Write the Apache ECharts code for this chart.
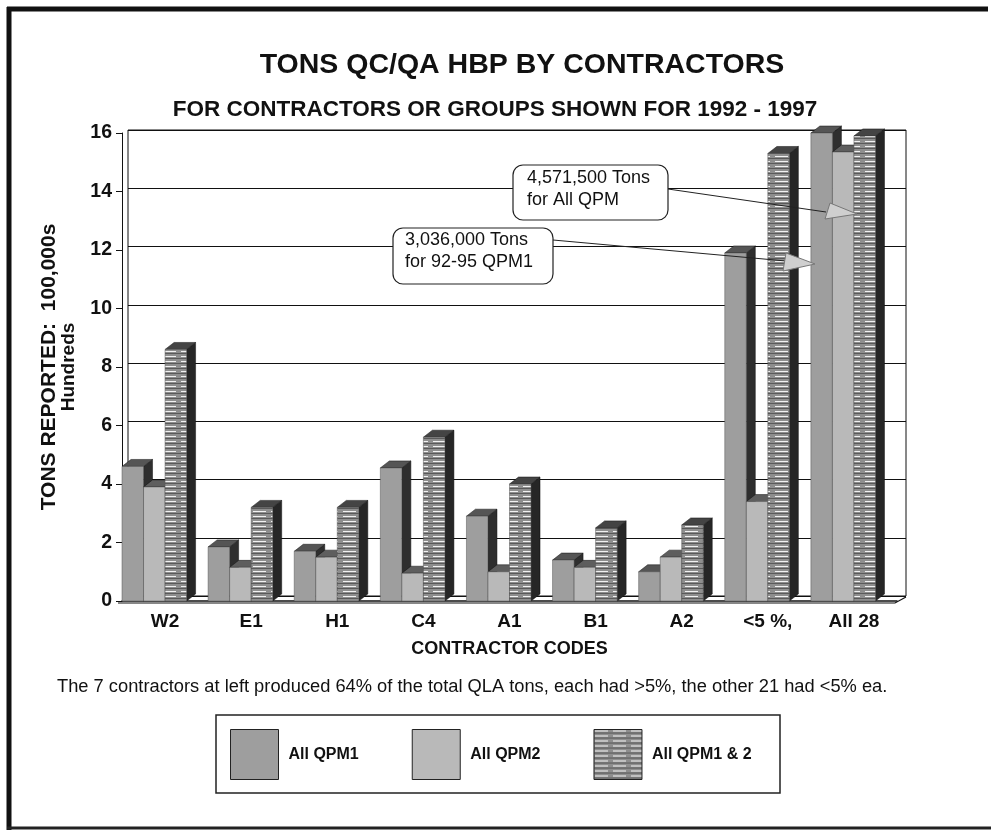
<!DOCTYPE html>
<html>
<head>
<meta charset="utf-8">
<script src="https://cdn.jsdelivr.net/npm/echarts@6/dist/echarts.min.js"></script>
<style>
  html, body { margin: 0; padding: 0; background: #fff; }
  #chart { width: 991px; height: 831px; }
</style>
</head>
<body>
<div id="chart"></div>
<script>
// values, in 100,000s of tons
const categories = ['W2', 'E1', 'H1', 'C4', 'A1', 'B1', 'A2', '<5 %,', 'All 28'];
const qpm1 = [4.6, 1.85, 1.7, 4.55, 2.9, 1.4, 1.0, 11.9, 16.0];
const qpm2 = [3.9, 1.15, 1.5, 0.95, 1.0, 1.15, 1.5, 3.4, 15.35];
const qpm12 = [8.6, 3.2, 3.2, 5.6, 4.0, 2.5, 2.6, 15.3, 15.9];
const seriesNames = ['All QPM1', 'All QPM2', 'All QPM1 & 2'];
const yTicks = { min: 0, max: 16, interval: 2 };

const FONT = '"Liberation Sans", Arial, sans-serif';

// striped fill for the combined bars
function stripes() {
  const c = document.createElement('canvas');
  c.width = 18; c.height = 5;
  const g = c.getContext('2d');
  g.fillStyle = '#8e8e8e';
  g.fillRect(0, 0, 18, 5);
  g.fillStyle = '#f2f2f2';
  g.fillRect(1, 1, 13, 1);
  g.fillStyle = '#5a5a5a';
  g.fillRect(0, 3, 18, 1);
  return c;
}

const faces = [
  { front: '#9e9e9e', top: '#555', side: '#2e2e2e' },
  { front: '#b9b9b9', top: '#5e5e5e', side: '#333' },
  { front: { image: stripes(), repeat: 'repeat' }, top: '#444', side: '#262626' }
];

const DX = 9, DY = -7;

function barRenderer(k) {
  return function (params, api) {
    const i = api.value(0);
    const v = api.value(1);
    const base = api.coord([i, 0]);
    const top = api.coord([i, v]);
    const bw = api.size([1, 0])[0];
    const w = bw * 0.25;
    const x = base[0] - bw / 2 + k * w;
    const f = faces[k];
    return {
      type: 'group',
      children: [
        {
          type: 'polygon',
          shape: { points: [[x + w, top[1]], [x + w + DX, top[1] + DY], [x + w + DX, base[1] + DY], [x + w, base[1]]] },
          style: { fill: f.side, stroke: '#111', lineWidth: 0.5 }
        },
        {
          type: 'polygon',
          shape: { points: [[x, top[1]], [x + DX, top[1] + DY], [x + w + DX, top[1] + DY], [x + w, top[1]]] },
          style: { fill: f.top, stroke: '#111', lineWidth: 0.5 }
        },
        {
          type: 'rect',
          shape: { x: x, y: top[1], width: w, height: base[1] - top[1] },
          style: { fill: f.front, stroke: '#555', lineWidth: 0.5 }
        }
      ]
    };
  };
}

const allValues = [qpm1, qpm2, qpm12];

const chart = echarts.init(document.getElementById('chart'));

const option = {
  backgroundColor: '#fff',
  animation: false,
  textStyle: { fontFamily: FONT },
  title: [
    {
      text: 'TONS QC/QA HBP BY CONTRACTORS',
      left: 517, top: 46, textAlign: 'center',
      textStyle: { fontSize: 28.5, fontWeight: 'bold', color: '#111', fontFamily: FONT }
    },
    {
      text: 'FOR CONTRACTORS OR GROUPS SHOWN FOR 1992 - 1997',
      left: 490, top: 93, textAlign: 'center',
      textStyle: { fontSize: 22.5, fontWeight: 'bold', color: '#111', fontFamily: FONT }
    }
  ],
  legend: {
    data: seriesNames,
    left: 230, top: 729,
    padding: 0,
    icon: 'rect',
    itemWidth: 48, itemHeight: 50,
    itemGap: 53,
    itemStyle: { borderColor: '#222', borderWidth: 1 },
    textStyle: { fontSize: 16, fontWeight: 'bold', color: '#111', fontFamily: FONT, padding: [0, 0, 0, 5] }
  },
  grid: [
    { left: 122, right: 94, top: 133, bottom: 230 },
    { left: 128, right: 85, top: 130, bottom: 235, show: true, borderColor: '#111', borderWidth: 1, z: 0 }
  ],
  xAxis: [
    {
      type: 'category', gridIndex: 0, data: categories,
      axisLine: { lineStyle: { color: '#111', width: 1.5 } },
      axisTick: { show: false },
      axisLabel: { fontSize: 19, fontWeight: 'bold', color: '#111', margin: 11 },
      name: 'CONTRACTOR CODES', nameLocation: 'middle', nameGap: 39,
      nameTextStyle: { fontSize: 18, fontWeight: 'bold', color: '#111' }
    },
    { type: 'value', gridIndex: 1, show: false, min: 0, max: 1 }
  ],
  yAxis: [
    {
      type: 'value', gridIndex: 0, min: yTicks.min, max: yTicks.max, interval: yTicks.interval,
      axisLine: { show: true, lineStyle: { color: '#111', width: 1 } },
      axisTick: { show: true, length: 6, lineStyle: { color: '#111' } },
      axisLabel: { fontSize: 19.5, fontWeight: 'bold', color: '#111', margin: 10 },
      splitLine: { show: false },
      name: '{a|TONS REPORTED:  100,000s}\n{b|Hundreds}',
      nameLocation: 'middle', nameRotate: 90, nameGap: 43,
      nameTextStyle: {
        align: 'center',
        rich: {
          a: { fontSize: 21, fontWeight: 'bold', color: '#111', lineHeight: 18, fontFamily: FONT },
          b: { fontSize: 19, fontWeight: 'bold', color: '#111', lineHeight: 21, fontFamily: FONT }
        }
      }
    },
    {
      type: 'value', gridIndex: 1, min: yTicks.min, max: yTicks.max, interval: yTicks.interval,
      axisLine: { show: false }, axisTick: { show: false }, axisLabel: { show: false },
      splitLine: { show: true, lineStyle: { color: '#111', width: 1 } }
    }
  ],
  series: allValues.map(function (vals, k) {
    return {
      name: seriesNames[k],
      type: 'custom',
      xAxisIndex: 0, yAxisIndex: 0,
      itemStyle: { color: faces[k].front },
      renderItem: barRenderer(k),
      encode: { x: 0, y: 1 },
      clip: false,
      data: vals.map(function (v, i) { return [i, v]; })
    };
  }),
  graphic: [
    // frame
    { type: 'line', shape: { x1: 9, y1: 7, x2: 9, y2: 830 }, style: { stroke: '#111', lineWidth: 5 } },
    { type: 'line', shape: { x1: 7, y1: 9, x2: 988, y2: 9 }, style: { stroke: '#111', lineWidth: 5 } },
    { type: 'line', shape: { x1: 7, y1: 828, x2: 991, y2: 828 }, style: { stroke: '#222', lineWidth: 3 } },
    // front edge of the floor
    { type: 'polyline', shape: { points: [[118, 603], [895, 603], [906, 597]] }, style: { stroke: '#111', lineWidth: 1.2, fill: 'none' } },
    // footnote
    {
      type: 'text', left: 57, top: 678,
      style: {
        text: 'The 7 contractors at left produced 64% of the total QLA tons, each had >5%, the other 21 had <5% ea.',
        font: '18.3px ' + FONT, fill: '#111'
      }
    },
    // legend box
    { type: 'rect', shape: { x: 216, y: 715, width: 564, height: 78 }, style: { fill: 'none', stroke: '#222', lineWidth: 1.5 } },
    // callouts
    { type: 'line', z: 10, shape: { x1: 668, y1: 189, x2: 826, y2: 212 }, style: { stroke: '#222', lineWidth: 1 } },
    { type: 'polygon', z: 11, shape: { points: [[825, 219], [830, 203], [857, 214]] }, style: { fill: '#cfcfcf', stroke: '#777', lineWidth: 1 } },
    { type: 'line', z: 10, shape: { x1: 553, y1: 240, x2: 786, y2: 261 }, style: { stroke: '#222', lineWidth: 1 } },
    { type: 'polygon', z: 11, shape: { points: [[783, 271], [786, 253], [815, 264]] }, style: { fill: '#cfcfcf', stroke: '#777', lineWidth: 1 } },
    {
      type: 'rect', z: 10, shape: { x: 513, y: 165, width: 155, height: 55, r: 10 },
      style: { fill: '#fff', stroke: '#222', lineWidth: 1.2 }
    },
    {
      type: 'text', z: 11, left: 527, top: 167,
      style: { text: '4,571,500 Tons\nfor All QPM', font: '18px ' + FONT, fill: '#111', lineHeight: 22 }
    },
    {
      type: 'rect', z: 10, shape: { x: 393, y: 228, width: 160, height: 56, r: 10 },
      style: { fill: '#fff', stroke: '#222', lineWidth: 1.2 }
    },
    {
      type: 'text', z: 11, left: 405, top: 229,
      style: { text: '3,036,000 Tons\nfor 92-95 QPM1', font: '18px ' + FONT, fill: '#111', lineHeight: 22 }
    }
  ]
};

chart.setOption(option);
</script>
</body>
</html>
